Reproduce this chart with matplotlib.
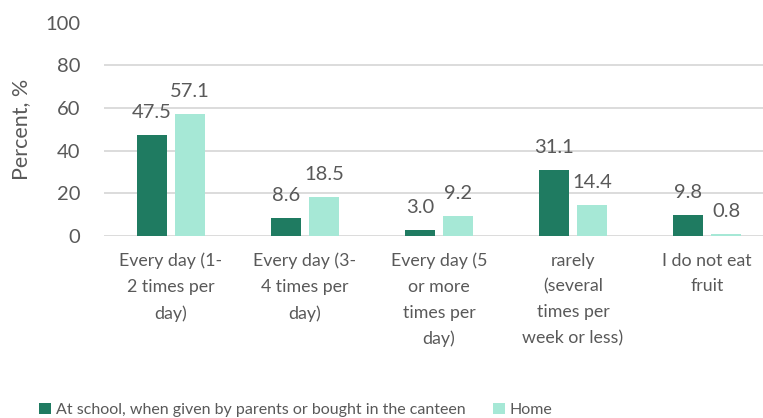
import numpy as np
import matplotlib.pyplot as plt

plt.rcParams['font.family'] = ['Lato', 'DejaVu Sans']

categories = ['Every day (1-\n2 times per\nday)', 'Every day (3-\n4 times per\nday)',
              'Every day (5\nor more\ntimes per\nday)', 'rarely\n(several\ntimes per\nweek or less)',
              'I do not eat\nfruit']
school = [47.5, 8.6, 3.0, 31.1, 9.8]
home = [57.1, 18.5, 9.2, 14.4, 0.8]
series_names = ['At school, when given by parents or bought in the canteen', 'Home']

dark = '#1F7B61'
light = '#A6E8D6'
grey = '#595959'

fig = plt.figure(figsize=(7.63, 4.18), dpi=100)
ax = fig.add_axes([104/763, 182/418, 670/763, 213.5/418])

x = np.arange(len(categories))
w = 0.224
off = 0.142
b1 = ax.bar(x - off, school, w, color=dark, label=series_names[0], zorder=3)
b2 = ax.bar(x + off, home, w, color=light, label=series_names[1], zorder=3)

for bars, vals in ((b1, school), (b2, home)):
    for r, v in zip(bars, vals):
        ax.annotate(f'{v:.1f}', (r.get_x() + r.get_width() / 2, v),
                    xytext=(0, 10), textcoords='offset points',
                    ha='center', va='bottom', fontsize=14.5, color=grey)

ax.set_xlim(-0.5, 4.5)
ax.set_ylim(0, 100)
ax.set_yticks(range(0, 101, 20))
ax.set_xticks(x)
ax.set_xticklabels(categories, linespacing=1.75, fontsize=12.8)
ax.tick_params(axis='both', length=0, colors=grey)
ax.tick_params(axis='y', pad=17, labelsize=14.5)
ax.tick_params(axis='x', pad=12)
ax.grid(axis='y', color='#D9D9D9', linewidth=1.3, zorder=0)
for s in ax.spines.values():
    s.set_visible(False)
ax.set_ylabel('Percent, %', fontsize=15.5, color=grey, labelpad=10)

fig.legend(loc='center', bbox_to_anchor=(296/763, 1 - 410/418), ncol=2, frameon=False,
           fontsize=11.5, labelcolor=grey, handlelength=0.75, handleheight=0.75,
           handletextpad=0.3, columnspacing=1.7)

fig.savefig('out.png', dpi=100)
